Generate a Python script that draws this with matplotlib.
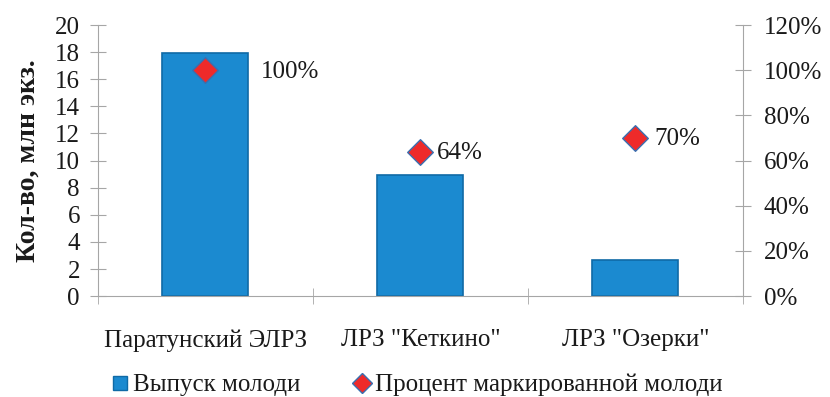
import matplotlib
matplotlib.use('Agg')
import matplotlib.pyplot as plt
from matplotlib.lines import Line2D
from matplotlib.ticker import PercentFormatter

# Datos
categorias = ['Паратунский ЭЛРЗ', 'ЛРЗ "Кеткино"', 'ЛРЗ "Озерки"']
vypusk = [17.9, 8.9, 2.7]          # млн экз.
procent = [100, 64, 70]            # %
etiquetas = ['100%', '64%', '70%']

plt.rcParams['font.family'] = ['Liberation Serif', 'DejaVu Serif']
gris = '#a6a6a6'
azul = '#1b8ad0'
texto = '#1a1a1a'

fig = plt.figure(figsize=(8.3, 3.97), dpi=100)
ax = fig.add_axes([0.118, 0.254, 0.777, 0.683])
ax2 = ax.twinx()

x = range(len(categorias))
ax.bar(x, vypusk, width=0.4, color=azul, edgecolor='#0f6aa6', linewidth=1.2, zorder=2)

ax2.scatter(x, procent, marker='D', s=170, color='#ee2a2a', edgecolor='#3a6fb0',
            linewidth=1, zorder=3)
# desplazamiento de cada etiqueta (en puntos)
desp = [40, 12, 14]
for xi, p, t, d in zip(x, procent, etiquetas, desp):
    ax2.annotate(t, (xi, p), xytext=(d, -1), textcoords='offset points',
                 va='center', ha='left', fontsize=18, color=texto)

ax.set_xlim(-0.5, 2.5)
ax.set_ylim(0, 20)
ax.set_yticks(range(0, 21, 2))
ax2.set_ylim(0, 120)
ax2.set_yticks(range(0, 121, 20))
ax2.yaxis.set_major_formatter(PercentFormatter(decimals=0))

ax.set_xticks(list(x))
ax.set_xticklabels(categorias, fontsize=18, color=texto)
ax.set_xticks([-0.5, 0.5, 1.5, 2.5], minor=True)
ax.tick_params(axis='x', which='major', length=0, pad=24)
ax.tick_params(axis='x', which='minor', direction='inout', length=12, color=gris)
ax.tick_params(axis='y', direction='inout', length=12, color=gris,
               labelsize=18, labelcolor=texto, pad=7)
ax2.tick_params(axis='y', direction='inout', length=12, color=gris,
                labelsize=18, labelcolor=texto, pad=9)

for a in (ax, ax2):
    a.spines['top'].set_visible(False)
    for s in ('left', 'right', 'bottom'):
        a.spines[s].set_color(gris)
ax.spines['right'].set_visible(False)
ax2.spines['left'].set_visible(False)
ax2.spines['bottom'].set_visible(False)

ax.set_ylabel('Кол-во, млн экз.', fontsize=20, fontweight='bold', labelpad=10, color=texto)

handles = [
    Line2D([], [], marker='s', linestyle='none', markersize=10,
           markerfacecolor=azul, markeredgecolor='#0f6aa6'),
    Line2D([], [], marker='D', linestyle='none', markersize=10,
           markerfacecolor='#ee2a2a', markeredgecolor='#3a6fb0'),
]
fig.legend(handles, ['Выпуск молоди', 'Процент маркированной молоди'],
           loc='lower center', bbox_to_anchor=(0.5, -0.055), ncol=2, frameon=False,
           fontsize=18, handletextpad=0.0, columnspacing=2.0, handlelength=1.0,
           labelcolor=texto)

fig.savefig('out.png', dpi=100)
